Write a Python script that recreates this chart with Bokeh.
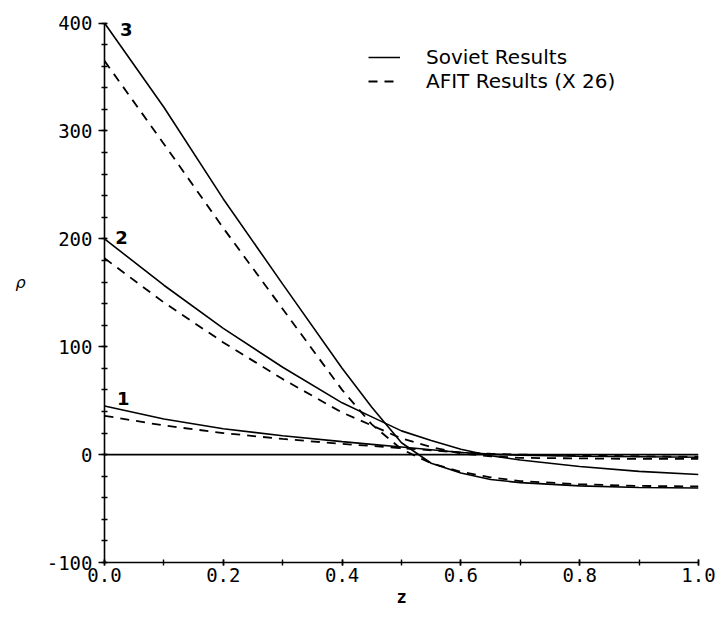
from bokeh.plotting import figure
from bokeh.models import (Range1d, SingleIntervalTicker, PrintfTickFormatter,
                          Label, Legend, LegendItem)
from bokeh.embed import file_html
from bokeh.resources import INLINE

# ---- data ----
z = [0.0, 0.1, 0.2, 0.3, 0.4, 0.45, 0.5, 0.55, 0.6, 0.65, 0.7, 0.8, 0.9, 1.0]

soviet_1 = [45, 33, 24, 17.5, 12, 9.5, 7, 4.5, 2, 0.5, -0.5, -1.5, -2, -2.5]
soviet_2 = [200, 157, 117, 81, 48, 35, 22, 13, 5, -1, -5, -11, -15.5, -18.5]
soviet_3 = [400, 322, 237, 158, 80, 44, 11, -8, -17, -23, -26, -29, -30.5, -31]

afit_1 = [36, 27, 20, 14.5, 10, 8, 6, 4, 2, 0.8, 0, -1, -1.5, -2]
afit_2 = [182, 141, 104, 70, 39, 27, 15, 7, 1, -1.5, -3, -3.5, -4, -4]
afit_3 = [365, 288, 210, 135, 60, 28, 5, -8, -16, -21, -24.5, -27.5, -29, -29.5]

zero_z = [0.0, 1.0]
zero_v = [0, 0]

curve_ids = ["1", "2", "3"]
curve_label_z = [0.021, 0.018, 0.026]
curve_label_v = [52, 201, 394]

legend_labels = ["Soviet Results", "AFIT Results (X 26)"]
x_label = "z"
y_label = "ρ"

# ---- figure ----
# frame reaches a little above 400 so the curve label "3" is not clipped;
# the left axis itself is bounded to [-100, 400]
p = figure(width=722, height=618, x_range=Range1d(0, 1), y_range=Range1d(-100, 420),
           output_backend="svg", toolbar_location=None,
           min_border_left=104, min_border_right=24, min_border_top=1, min_border_bottom=56)
p.outline_line_color = None
p.grid.visible = False
p.background_fill_color = "white"
p.border_fill_color = "white"

tick_font = "DejaVu Sans Mono"

xa = p.xaxis[0]
xa.ticker = SingleIntervalTicker(interval=0.2, num_minor_ticks=2)
xa.formatter = PrintfTickFormatter(format="%.1f")
xa.axis_label = x_label
xa.axis_label_text_font = tick_font
xa.axis_label_text_font_style = "bold"
xa.axis_label_text_font_size = "17px"
xa.axis_label_standoff = 2
xa.major_label_standoff = 2

ya = p.yaxis[0]
ya.bounds = (-100, 400)
ya.ticker = SingleIntervalTicker(interval=100, num_minor_ticks=5)
ya.formatter = PrintfTickFormatter(format="%d")
ya.axis_label = y_label
ya.axis_label_orientation = "horizontal"
ya.axis_label_text_font = "DejaVu Sans"
ya.axis_label_text_font_style = "italic"
ya.axis_label_text_font_size = "16px"
ya.axis_label_text_baseline = "top"
ya.axis_label_standoff = 18
ya.major_label_standoff = 6

for ax in (xa, ya):
    ax.axis_line_color = "black"
    ax.axis_line_width = 1.6
    ax.major_tick_line_color = "black"
    ax.minor_tick_line_color = "black"
    ax.major_tick_line_width = 1.6
    ax.minor_tick_line_width = 1.4
    ax.major_label_text_font = tick_font
    ax.major_label_text_font_size = "19px"
    ax.major_label_text_color = "black"
    ax.axis_label_text_color = "black"

xa.major_tick_in = 3
xa.major_tick_out = 3
xa.minor_tick_in = 3
xa.minor_tick_out = 3
ya.major_tick_in = 2
ya.major_tick_out = 6
ya.minor_tick_in = 3
ya.minor_tick_out = 3

# zero line
p.line(zero_z, zero_v, line_color="black", line_width=1.8)

solid = dict(line_color="black", line_width=1.6)
dashed = dict(line_color="black", line_width=1.8, line_dash="9 7")

r_s1 = p.line(z, soviet_1, **solid)
r_s2 = p.line(z, soviet_2, **solid)
r_s3 = p.line(z, soviet_3, **solid)
r_a1 = p.line(z, afit_1, **dashed)
r_a2 = p.line(z, afit_2, **dashed)
r_a3 = p.line(z, afit_3, **dashed)

for t, cz, cv in zip(curve_ids, curve_label_z, curve_label_v):
    p.add_layout(Label(x=cz, y=cv, text=t, text_font="DejaVu Sans",
                       text_font_style="bold", text_font_size="18px",
                       text_baseline="alphabetic", text_align="left",
                       text_color="black"))

legend = Legend(items=[LegendItem(label=legend_labels[0], renderers=[r_s3]),
                       LegendItem(label=legend_labels[1], renderers=[r_a3])],
                location=(264, 469), border_line_alpha=0, background_fill_alpha=0,
                label_text_font="DejaVu Sans", label_text_font_size="20px",
                label_text_color="black",
                glyph_width=32, glyph_height=22, label_height=22,
                spacing=0, padding=0, margin=0, label_standoff=26)
p.add_layout(legend)

open("out.html", "w").write(file_html(p, INLINE))
